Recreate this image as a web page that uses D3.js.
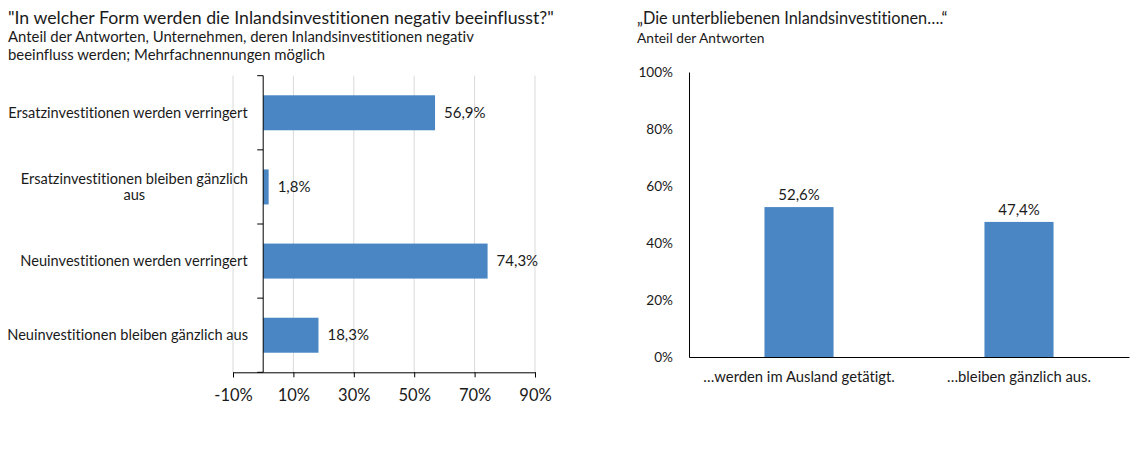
<!DOCTYPE html>
<html>
<head>
<meta charset="utf-8">
<script src="https://cdn.jsdelivr.net/npm/d3@7"></script>
<style>
  html, body { margin: 0; padding: 0; background: #fff; }
  svg { display: block; }
  text { font-family: Lato, "Open Sans", sans-serif; fill: #1a1a1a;
         font-variant-ligatures: none; font-feature-settings: "liga" 0, "clig" 0; }
</style>
</head>
<body>
<svg id="chart" width="1137" height="450"></svg>
<script>
// ---- Data ----
const leftTitle = "\"In welcher Form werden die Inlandsinvestitionen negativ beeinflusst?\"";
const leftSubtitle = ["Anteil der Antworten, Unternehmen, deren Inlandsinvestitionen negativ",
                      "beeinfluss werden; Mehrfachnennungen möglich"];
const leftCategories = [
  ["Ersatzinvestitionen werden verringert"],
  ["Ersatzinvestitionen bleiben gänzlich", "aus"],
  ["Neuinvestitionen werden verringert"],
  ["Neuinvestitionen bleiben gänzlich aus"]
];
const leftValues = [56.9, 1.8, 74.3, 18.3];
const leftTicks = [-10, 10, 30, 50, 70, 90];

const rightTitle = "„Die unterbliebenen Inlandsinvestitionen….“";
const rightSubtitle = "Anteil der Antworten";
const rightCategories = ["…werden im Ausland getätigt.", "…bleiben gänzlich aus."];
const rightValues = [52.6, 47.4];
const rightTicks = [0, 20, 40, 60, 80, 100];

// ---- Setup ----
const barColor = "#4a86c4";
const gridColor = "#d9d9d9";
const FONT = "Lato, 'Open Sans', sans-serif";
const locale = d3.formatLocale({decimal: ",", thousands: ".", grouping: [3], currency: ["", "€"]});
const fmtVal = v => locale.format(".1f")(v) + "%";
const fmtTick = v => v + "%";

const svg = d3.select("#chart");

// ================= LEFT CHART =================
const L = svg.append("g");
L.append("text").attr("x", 8).attr("y", 24).style("font-size", "17.7px").text(leftTitle);
leftSubtitle.forEach((s, i) => {
  L.append("text").attr("x", 8).attr("y", 42 + i * 18).style("font-size", "14.9px").text(s);
});

const lx = d3.scaleLinear().domain([-10, 90]).range([233, 535]);
const yTop = 75.7, yBot = 372.3;
const ly = d3.scaleBand().domain(d3.range(leftValues.length)).range([yTop, yBot])
  .paddingInner(0.528).paddingOuter(0.264);

// gridlines
L.append("g").selectAll("line").data(leftTicks).join("line")
  .attr("x1", d => lx(d)).attr("x2", d => lx(d))
  .attr("y1", yTop).attr("y2", yBot)
  .attr("stroke", gridColor).attr("stroke-width", 1);

// bars
L.append("g").selectAll("rect").data(leftValues).join("rect")
  .attr("x", lx(0)).attr("y", (d, i) => ly(i))
  .attr("width", d => lx(d) - lx(0)).attr("height", ly.bandwidth())
  .attr("fill", barColor);

// value labels
L.append("g").selectAll("text").data(leftValues).join("text")
  .attr("x", d => lx(d) + 9).attr("y", (d, i) => ly(i) + ly.bandwidth() / 2)
  .attr("dy", "0.35em").style("font-size", "15px").text(d => fmtVal(d));

// x axis
const xAxis = d3.axisBottom(lx).tickValues(leftTicks).tickFormat(fmtTick).tickSize(5).tickPadding(12);
const gx = L.append("g").attr("transform", `translate(0,${yBot})`).call(xAxis);
gx.select(".domain").attr("stroke", "#000");
gx.selectAll(".tick line").attr("stroke", "#000");
gx.selectAll(".tick text").style("font-size", "16.5px").style("font-family", FONT).attr("fill", "#1a1a1a");

// y axis line with category boundary ticks
const x0 = lx(0);
L.append("line").attr("x1", x0).attr("x2", x0).attr("y1", yTop).attr("y2", yBot).attr("stroke", "#000");
const bounds = d3.range(leftValues.length + 1).map(i => yTop + i * ly.step());
L.append("g").selectAll("line").data(bounds).join("line")
  .attr("x1", x0 - 6).attr("x2", x0).attr("y1", d => d).attr("y2", d => d).attr("stroke", "#000");

// category labels
const catG = L.append("g");
leftCategories.forEach((lines, i) => {
  const cy = ly(i) + ly.bandwidth() / 2;
  const lh = 16;
  const g = catG.append("g");
  const t = g.append("text").style("font-size", "14.6px").attr("text-anchor", "middle");
  lines.forEach((ln, j) => {
    t.append("tspan").attr("x", 0).attr("y", cy + (j - (lines.length - 1) / 2) * lh).attr("dy", "0.35em").text(ln);
  });
  const w = t.node().getBBox().width;
  g.attr("transform", `translate(${248 - w / 2},0)`);
});

// ================= RIGHT CHART =================
const R = svg.append("g");
R.append("text").attr("x", 637).attr("y", 24).style("font-size", "16.3px").text(rightTitle);
R.append("text").attr("x", 637).attr("y", 43).style("font-size", "13.8px").text(rightSubtitle);

const rx = d3.scaleBand().domain(rightCategories).range([689, 1129]).paddingInner(0.686).paddingOuter(0.343);
const ry = d3.scaleLinear().domain([0, 100]).range([357, 72]);

R.append("g").selectAll("rect").data(rightValues).join("rect")
  .attr("x", (d, i) => rx(rightCategories[i])).attr("y", d => ry(d))
  .attr("width", rx.bandwidth()).attr("height", d => ry(0) - ry(d))
  .attr("fill", barColor);

R.append("g").selectAll("text").data(rightValues).join("text")
  .attr("x", (d, i) => rx(rightCategories[i]) + rx.bandwidth() / 2)
  .attr("y", d => ry(d) - 7).attr("text-anchor", "middle")
  .style("font-size", "15px").text(d => fmtVal(d));

const yAxisR = d3.axisLeft(ry).tickValues(rightTicks).tickFormat(fmtTick).tickSize(0).tickPadding(16);
const gy = R.append("g").attr("transform", "translate(689,0)").call(yAxisR);
gy.select(".domain").attr("stroke", "#000");
gy.selectAll(".tick text").style("font-size", "13.6px").style("font-family", FONT).attr("fill", "#1a1a1a");

const xAxisR = d3.axisBottom(rx).tickSize(0).tickPadding(14);
const gxr = R.append("g").attr("transform", "translate(0,357)").call(xAxisR);
gxr.select(".domain").attr("stroke", "#000");
gxr.selectAll(".tick text").style("font-size", "14.8px").style("font-family", FONT).attr("fill", "#1a1a1a");
</script>
</body>
</html>
